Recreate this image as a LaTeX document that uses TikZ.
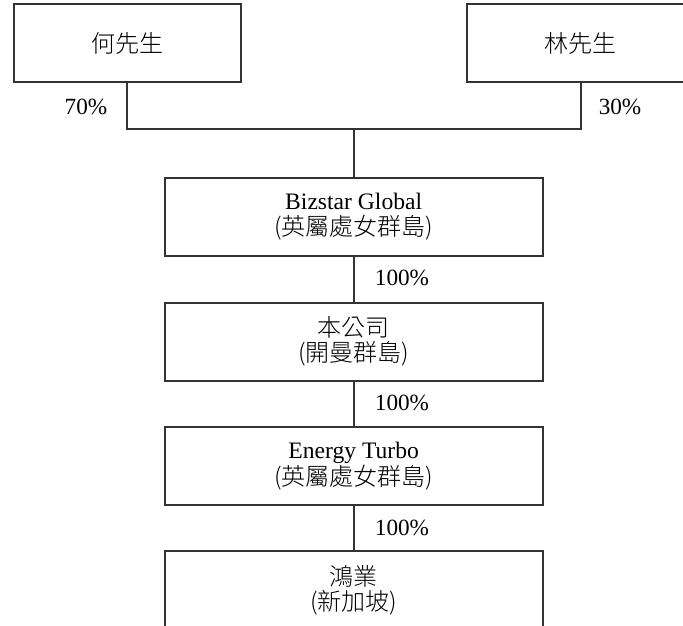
\documentclass[tikz,border=0pt]{standalone}
\usepackage{fontspec}
\setmainfont{Liberation Serif}
\newfontfamily\cjk{Noto Sans CJK TC Light}
\newcommand{\zh}[1]{{\cjk\fontsize{12}{12.5}\selectfont #1}}
\begin{document}
\begin{tikzpicture}[x=0.5pt,y=-0.5pt,
	line/.style={draw=black!80,line width=1pt},
	owner/.style={rectangle,line,minimum width=113.5pt,minimum height=39pt,inner sep=0pt},
	entity/.style={rectangle,line,minimum width=189pt,minimum height=39pt,inner sep=0pt,align=center,font=\fontsize{11.8}{12.6}\selectfont},
	pct/.style={font=\fontsize{11.6}{12}\selectfont,inner sep=0pt}]
		\useasboundingbox (0,0) rectangle (683,625);
		\clip (0,0) rectangle (683,625);
		% shareholders
		\node [owner] (he) at (127,43.5) {\zh{何先生}};
		\node [owner] (lin) at (580.5,43.5) {\zh{林先生}};
		% group chain
		\node [entity] (bizstar) at (353.7,216.7) {Bizstar Global\\\zh{(英屬處女群島)}};
		\node [entity] (company) at (353.7,341.5) {\zh{本公司}\\\zh{(開曼群島)}};
		\node [entity] (turbo) at (353.7,466) {Energy Turbo\\\zh{(英屬處女群島)}};
		\node [entity] (hongye) at (353.7,590) {\zh{鴻業}\\\zh{(新加坡)}};
		\coordinate (join) at (353.7,129.5);
		\draw [line] (he.south) |- (join) -| (lin.south);
		\draw [line] (join) -- (bizstar.north);
		\draw [line] (bizstar) -- (company);
		\draw [line] (company) -- (turbo);
		\draw [line] (turbo) -- (hongye);
		% percentages
		\node [pct] (p70) at (86,107) {70\%};
		\node [pct] (p30) at (620,107) {30\%};
		\node [pct] (p1) at (402,278) {100\%};
		\node [pct] (p2) at (402,403) {100\%};
		\node [pct] (p3) at (402,528) {100\%};
\end{tikzpicture}
\end{document}
